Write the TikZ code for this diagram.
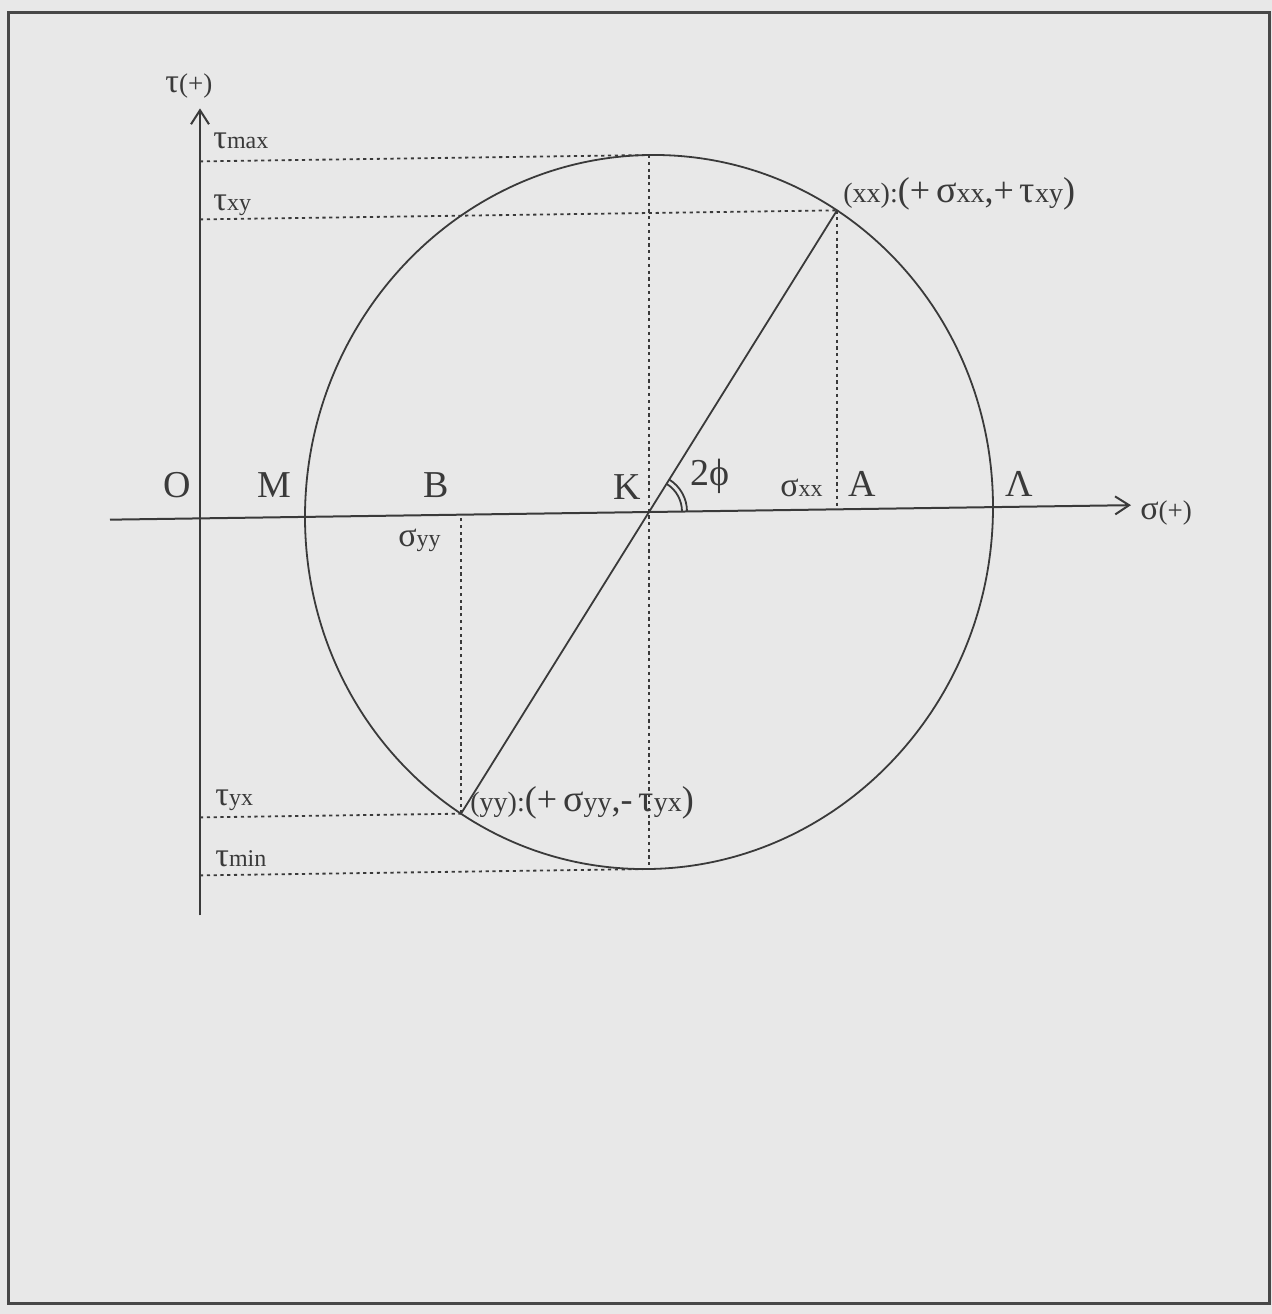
\documentclass[tikz,border=0pt]{standalone}
\usepackage{fontspec}
\setmainfont{Liberation Serif}
\usetikzlibrary{arrows.meta}
\definecolor{paper}{HTML}{E8E8E8}
\definecolor{ink}{HTML}{3A3A3A}
\definecolor{framec}{HTML}{474747}
\newcommand{\mfCap}{\fontsize{19}{22}\selectfont}
\newcommand{\mfGrk}{\fontsize{17}{20}\selectfont}
\newcommand{\mfSub}{\fontsize{12}{14}\selectfont}
\newcommand{\mfPar}{\fontsize{13.5}{16}\selectfont}
\newcommand{\mfLs}{\fontsize{14}{16}\selectfont}
\newcommand{\mfLm}{\fontsize{18}{20}\selectfont}
\newcommand{\mfLg}{\fontsize{19}{21}\selectfont}
\begin{document}
\begin{tikzpicture}[x=0.5pt,y=-0.5pt,
  axisline/.style={draw=ink, line width=1pt, -{Straight Barb[length=7pt,width=9pt,line width=1pt]}},
  curve/.style={draw=ink, line width=0.9pt},
  guide/.style={draw=ink, line width=0.9pt, dash pattern=on 1.6pt off 1.8pt},
  lbl/.style={anchor=base west, inner sep=0pt, text=ink}]
\useasboundingbox (0,0) rectangle (1272,1314);
\fill[paper] (0,0) rectangle (1272,1314);
\draw[framec, line width=1.5pt] (8,12) rectangle (1269,1303);

\begin{scope}[shift={(649,512)}, yslant=0.0142, shift={(-649,-512)}]
  \coordinate (K) at (649,512);
  \coordinate (Hl) at (110,512);
  \coordinate (Hr) at (1131,512);
  \coordinate (Vb) at (200,909);
  \coordinate (Vt) at (200,102);
  \coordinate (XX) at (837,213);
  \coordinate (YY) at (461,811);
  \coordinate (Tmax0) at (200,155);
  \coordinate (Top) at (649,155);
  \coordinate (Txy0) at (200,213);
  \coordinate (XXb) at (837,512);
  \coordinate (Tyx0) at (200,811);
  \coordinate (YYt) at (461,512);
  \coordinate (Tmin0) at (200,869);
  \coordinate (Bot) at (649,869);

  \draw[guide] (Tmax0) -- (Top);
  \draw[guide] (Top) -- (Bot);
  \draw[guide] (Txy0) -- (XX);
  \draw[guide] (XX) -- (XXb);
  \draw[guide] (Tyx0) -- (YY);
  \draw[guide] (YY) -- (YYt);
  \draw[guide] (Tmin0) -- (Bot);

  \draw[curve] (K) ellipse [x radius=344, y radius=357];
  \draw[curve] (YY) -- (XX);
  \draw[curve] ([shift={(33,0)}]K) arc[start angle=0, end angle=-57.8, radius=33];
  \draw[curve] ([shift={(38,0)}]K) arc[start angle=0, end angle=-57.8, radius=38];

  \draw[axisline] (Hl) -- (Hr);
  \draw[axisline] (Vb) -- (Vt);
\end{scope}

\node[lbl] (lO) at (163,497) {\mfCap O};
\node[lbl] (lM) at (257,497) {\mfCap M};
\node[lbl] (lB) at (423,497) {\mfCap B};
\node[lbl] (lK) at (613,499) {\mfCap K};
\node[lbl] (lA) at (848,496) {\mfCap A};
\node[lbl] (lL) at (1005,496) {\mfCap Λ};
\node[lbl] (l2p) at (690,485) {\mfCap 2ϕ};
\node[lbl] (lsxx) at (780,496) {\mfGrk σ\mfSub xx};
\node[lbl] (lsyy) at (398,546) {\mfGrk σ\mfSub yy};
\node[lbl] (lsig) at (1140,519) {\mfGrk σ\mfPar(+)};
\node[lbl] (ltau) at (165,92) {\mfGrk τ\mfPar(+)};
\node[lbl] (ltmax) at (213,148) {\mfGrk τ\mfSub max};
\node[lbl] (ltxy) at (213,210) {\mfGrk τ\mfSub xy};
\node[lbl] (ltyx) at (215,805) {\mfGrk τ\mfSub yx};
\node[lbl] (ltmin) at (215,866) {\mfGrk τ\mfSub min};
\node[lbl] (lxx) at (843,202) {\mfLs(xx):\mfLm(+\,\mfLg σ\mfLs xx\mfLm,+\,\mfLg τ\mfLs xy\mfLm)};
\node[lbl] (lyy) at (470,811) {\mfLs(yy):\mfLm(+\,\mfLg σ\mfLs yy\mfLm,-\,\mfLg τ\mfLs yx\mfLm)};
\end{tikzpicture}
\end{document}
